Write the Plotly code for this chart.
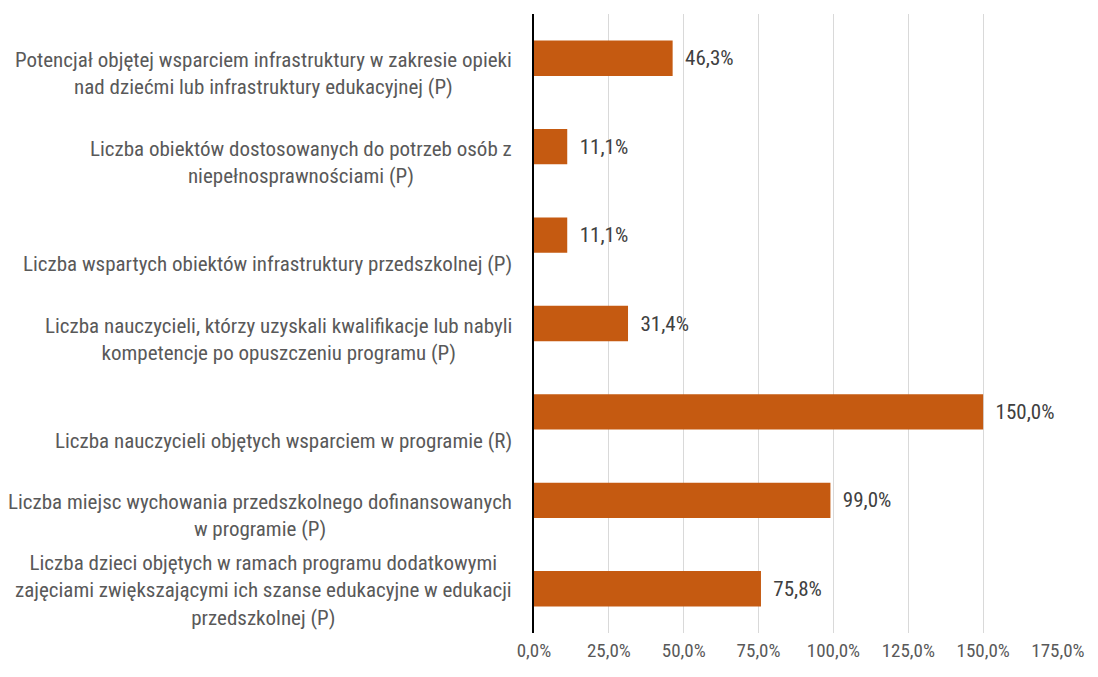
import plotly.graph_objects as go

CATEGORIES = [
    "Potencjał objętej wsparciem infrastruktury w zakresie opieki<br>nad dziećmi lub infrastruktury edukacyjnej (P)",
    "Liczba obiektów dostosowanych do potrzeb osób z<br>niepełnosprawnościami (P)",
    "Liczba wspartych obiektów infrastruktury przedszkolnej (P)",
    "Liczba nauczycieli, którzy uzyskali kwalifikacje lub nabyli<br>kompetencje po opuszczeniu programu (P)",
    "Liczba nauczycieli objętych wsparciem w programie (R)",
    "Liczba miejsc wychowania przedszkolnego dofinansowanych<br>w programie (P)",
    "Liczba dzieci objętych w ramach programu dodatkowymi<br>zajęciami zwiększającymi ich szanse edukacyjne w edukacji<br>przedszkolnej (P)",
]
VALUES = [46.3, 11.1, 11.1, 31.4, 150.0, 99.0, 75.8]
TICKS = [0, 25, 50, 75, 100, 125, 150, 175]
TICK_TEXT = [f"{t:.1f}%".replace(".", ",") for t in TICKS]

FONT = "Roboto Condensed, Liberation Sans Narrow, Roboto, sans-serif"
GREY = "#595959"

fig = go.Figure()
fig.add_trace(go.Bar(
    x=VALUES, y=CATEGORIES, orientation="h",
    marker=dict(color="#C55A11", line=dict(width=0)),
    texttemplate="\u2002%{x:.1f}%", textposition="outside",
    textfont=dict(family=FONT, size=21, color="#404040"),
    cliponaxis=False, showlegend=False,
))

# category labels: centred lines, block right-aligned next to the axis
for cat in CATEGORIES:
    fig.add_annotation(
        x=0, y=cat, xref="paper", yref="y", text=cat, showarrow=False,
        xanchor="right", yanchor="bottom", align="center",
        xshift=-20, yshift=-43,
        font=dict(family=FONT, size=21, color=GREY),
    )

# sized so the page (with the default 8px body margin) fits the window
fig.update_layout(
    width=1082, height=661,
    margin=dict(l=526, r=32, t=6, b=36),
    plot_bgcolor="white", paper_bgcolor="white",
    separators=", ",
    bargap=0.6,
    font=dict(family=FONT, color=GREY),
)
fig.update_xaxes(
    range=[0, 175], tickvals=TICKS, ticktext=TICK_TEXT,
    showgrid=True, gridcolor="#d9d9d9", gridwidth=1,
    zeroline=False, showline=False, ticks="", ticklabelstandoff=4,
    tickfont=dict(family=FONT, size=19, color=GREY),
)
fig.update_yaxes(
    autorange="reversed", showticklabels=False, showgrid=False,
    showline=True, linecolor="black", linewidth=1.5, zeroline=False,
)

fig.write_html("out.html")
